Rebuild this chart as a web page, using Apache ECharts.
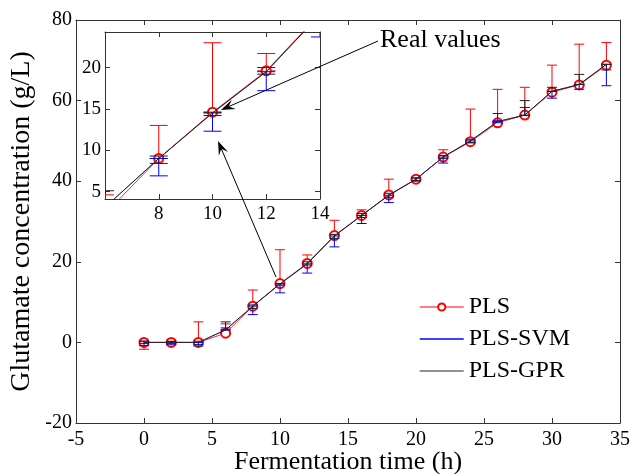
<!DOCTYPE html>
<html>
<head>
<meta charset="utf-8">
<title>Glutamate concentration</title>
<script src="https://cdn.jsdelivr.net/npm/echarts@6.0.0/dist/echarts.min.js"></script>
<style>
  html, body { margin: 0; padding: 0; background: #fff; }
  #chart { width: 631px; height: 474px; }
</style>
</head>
<body>
<div id="chart"></div>
<script>
// fermentation time (h)
const times = [0, 2, 4, 6, 8, 10, 12, 14, 16, 18, 20, 22, 24, 26, 28, 30, 32, 34]

// predicted glutamate (g/L) for each model
const plsValues = [0, 0, 0, 2.3, 9.0, 14.6, 19.6, 26.5, 31.5, 36.6, 40.5, 46.0, 49.8, 54.5, 56.4, 62.1, 63.9, 68.8]
const svmValues = [0, 0, 0, 3.1, 9.0, 14.5, 19.5, 26.4, 31.5, 36.5, 40.5, 46.0, 50.0, 54.8, 56.4, 62.3, 64.0, 69.0]
const gprValues = [0, 0, 0, 3.1, 9.0, 14.5, 19.5, 26.4, 31.5, 36.5, 40.5, 46.0, 50.0, 54.8, 56.4, 62.3, 64.0, 69.0]

// error bar ends
const plsLow  = [-1.7, -0.4, 0, 2.3, 9.0, 14.6, 19.6, 26.4, 31.5, 36.5, 40.3, 46.0, 49.8, 54.5, 56.4, 62.1, 63.9, 68.8]
const plsHigh = [0.5, 0.6, 5.1, 4.6, 13.0, 23.0, 21.7, 30.3, 32.9, 40.5, 41.0, 47.8, 57.9, 62.8, 63.3, 68.8, 74.0, 74.4]
const svmLow  = [-0.8, -0.6, -0.5, 3.1, 6.9, 12.3, 17.2, 23.7, 29.5, 34.7, 40.0, 44.5, 49.5, 54.5, 56.3, 60.6, 62.8, 63.7]
const svmHigh = [0.3, 0.2, 0, 3.6, 9.0, 14.5, 19.5, 26.4, 31.5, 36.5, 40.8, 46.0, 50.0, 55.0, 58.3, 62.3, 64.0, 69.0]
const gprLow  = [-0.3, -0.3, -0.9, 3.1, 8.4, 14.2, 19.2, 25.8, 31.0, 36.0, 40.2, 45.6, 49.6, 54.8, 56.4, 62.3, 64.0, 67.6]
const gprHigh = [0.3, 0.3, 0.3, 5.1, 9.3, 14.6, 20.0, 26.8, 32.0, 37.0, 40.8, 46.4, 50.4, 56.8, 60.0, 63.3, 66.5, 69.0]

const xTicks = { min: -5, max: 35, step: 5 }
const yTicks = { min: -20, max: 80, step: 20 }

const font = 'Liberation Serif'
const axisColor = '#333'

function pairs(values) {
  return times.map((t, i) => [t, values[i]])
}
function bars(low, high) {
  return times.map((t, i) => [t, low[i], high[i]])
}

function errorBar(capHalf) {
  return function (params, api) {
    const p1 = api.coord([api.value(0), api.value(1)])
    const p2 = api.coord([api.value(0), api.value(2)])
    const style = { stroke: api.visual('color'), lineWidth: 1 }
    return {
      type: 'group',
      children: [
        { type: 'line', shape: { x1: p1[0], y1: p1[1], x2: p2[0], y2: p2[1] }, style: style },
        { type: 'line', shape: { x1: p1[0] - capHalf, y1: p1[1], x2: p1[0] + capHalf, y2: p1[1] }, style: style },
        { type: 'line', shape: { x1: p2[0] - capHalf, y1: p2[1], x2: p2[0] + capHalf, y2: p2[1] }, style: style }
      ]
    }
  }
}

function boxAxis(extra) {
  return Object.assign({
    type: 'value',
    splitLine: { show: false },
    axisLine: { show: true, onZero: false, lineStyle: { color: axisColor, width: 1 } },
    axisTick: { show: true, inside: true, length: 5, lineStyle: { color: axisColor } },
    axisLabel: { show: false }
  }, extra)
}

const labelStyle = { show: true, color: '#000', fontFamily: font, fontSize: 20 }
const insetLabel = { show: true, color: '#000', fontFamily: font, fontSize: 19 }

const models = [
  { name: 'PLS', color: '#ff0000', values: plsValues, low: plsLow, high: plsHigh, z: 2, width: 0.8 },
  { name: 'PLS-SVM', color: '#0000ff', values: svmValues, low: svmLow, high: svmHigh, z: 3, width: 0.5 },
  { name: 'PLS-GPR', color: '#222222', values: gprValues, low: gprLow, high: gprHigh, z: 4, width: 1 }
]

const series = []
models.forEach(m => {
  const marker = m.name === 'PLS'
  // main plot
  series.push({
    name: m.name + ' error',
    type: 'custom',
    xAxisIndex: 0, yAxisIndex: 0,
    renderItem: errorBar(5),
    itemStyle: { color: m.color },
    data: bars(m.low, m.high),
    z: m.z,
    silent: true
  })
  series.push({
    name: m.name,
    type: 'line',
    xAxisIndex: 0, yAxisIndex: 0,
    data: pairs(m.values),
    symbol: marker ? 'emptyCircle' : 'none',
    showSymbol: marker,
    symbolSize: 9,
    itemStyle: { color: m.color, borderWidth: 1 },
    lineStyle: { color: m.color, width: m.width },
    z: m.z
  })
  // inset
  series.push({
    name: m.name + ' error inset',
    type: 'custom',
    xAxisIndex: 2, yAxisIndex: 2,
    renderItem: errorBar(9),
    clip: true,
    itemStyle: { color: m.color },
    data: bars(m.low, m.high),
    z: m.z,
    silent: true
  })
  series.push({
    name: m.name,
    type: 'line',
    xAxisIndex: 2, yAxisIndex: 2,
    data: pairs(m.values),
    clip: true,
    symbol: marker ? 'emptyCircle' : 'none',
    showSymbol: marker,
    symbolSize: 9,
    itemStyle: { color: m.color, borderWidth: 1 },
    lineStyle: { color: m.color, width: m.width },
    z: m.z
  })
})

function arrow(x1, y1, x2, y2) {
  const len = Math.hypot(x2 - x1, y2 - y1)
  const dx = (x2 - x1) / len, dy = (y2 - y1) / len
  const L = 14, W = 5
  const bx = x2 - L * dx, by = y2 - L * dy
  return [
    { type: 'line', shape: { x1: x1, y1: y1, x2: x2 - 6 * dx, y2: y2 - 6 * dy }, style: { stroke: '#000', lineWidth: 1 }, z: 10 },
    {
      type: 'polygon',
      shape: { points: [[x2, y2], [bx - W * dy, by + W * dx], [x2 - 0.6 * L * dx, y2 - 0.6 * L * dy], [bx + W * dy, by - W * dx]] },
      style: { fill: '#000' },
      z: 10
    }
  ]
}

var dom = document.getElementById('chart')
var myChart = echarts.init(dom, null, { renderer: 'canvas' })

var option = {
  animation: false,
  backgroundColor: '#fff',
  grid: [
    { left: 76, top: 20, width: 544, height: 403, outerBoundsMode: 'none' },
    { left: 105, top: 32, width: 215, height: 167, outerBoundsMode: 'none' }
  ],
  xAxis: [
    boxAxis({
      gridIndex: 0, position: 'bottom', min: xTicks.min, max: xTicks.max, interval: xTicks.step,
      axisLabel: Object.assign({ margin: 7 }, labelStyle),
      name: 'Fermentation time (h)', nameLocation: 'middle', nameGap: 26, nameMoveOverlap: false,
      nameTextStyle: { color: '#000', fontFamily: font, fontSize: 26 }
    }),
    boxAxis({ gridIndex: 0, position: 'top', min: xTicks.min, max: xTicks.max, interval: xTicks.step }),
    boxAxis({
      gridIndex: 1, position: 'bottom', min: 6, max: 14, interval: 2,
      axisLabel: Object.assign({ margin: 6, showMinLabel: false }, insetLabel)
    }),
    boxAxis({ gridIndex: 1, position: 'top', min: 6, max: 14, interval: 2 })
  ],
  yAxis: [
    boxAxis({
      gridIndex: 0, position: 'left', min: yTicks.min, max: yTicks.max, interval: yTicks.step,
      axisLabel: Object.assign({ margin: 4 }, labelStyle),
      name: 'Glutamate concentration (g/L)', nameLocation: 'middle', nameGap: 40, nameMoveOverlap: false,
      nameTextStyle: { color: '#000', fontFamily: font, fontSize: 28 }
    }),
    boxAxis({ gridIndex: 0, position: 'right', min: yTicks.min, max: yTicks.max, interval: yTicks.step }),
    boxAxis({
      gridIndex: 1, position: 'left', min: 4.1, max: 24.3,
      axisLabel: Object.assign({ margin: 4, showMinLabel: false, showMaxLabel: false }, insetLabel)
    }),
    boxAxis({ gridIndex: 1, position: 'right', min: 4.1, max: 24.3 })
  ],
  legend: {
    data: [
      { name: 'PLS', lineStyle: { width: 1 } },
      { name: 'PLS-SVM', itemStyle: { opacity: 0 }, lineStyle: { width: 1.5 } },
      { name: 'PLS-GPR', itemStyle: { opacity: 0 }, lineStyle: { width: 1 } }
    ],
    orient: 'vertical',
    left: 414,
    top: 290,
    itemWidth: 44,
    itemHeight: 9,
    itemGap: 8,
    textStyle: { color: '#000', fontFamily: font, fontSize: 24 },
    selectedMode: false
  },
  graphic: [
    {
      type: 'text', left: 380, top: 27, z: 10,
      style: { text: 'Real values', fill: '#000', font: '26px "Liberation Serif"' }
    }
  ].concat(arrow(378, 41, 221, 110), arrow(276, 277, 218, 141)),
  series: series
}

myChart.setOption(option)
window.addEventListener('resize', myChart.resize)
</script>
</body>
</html>
